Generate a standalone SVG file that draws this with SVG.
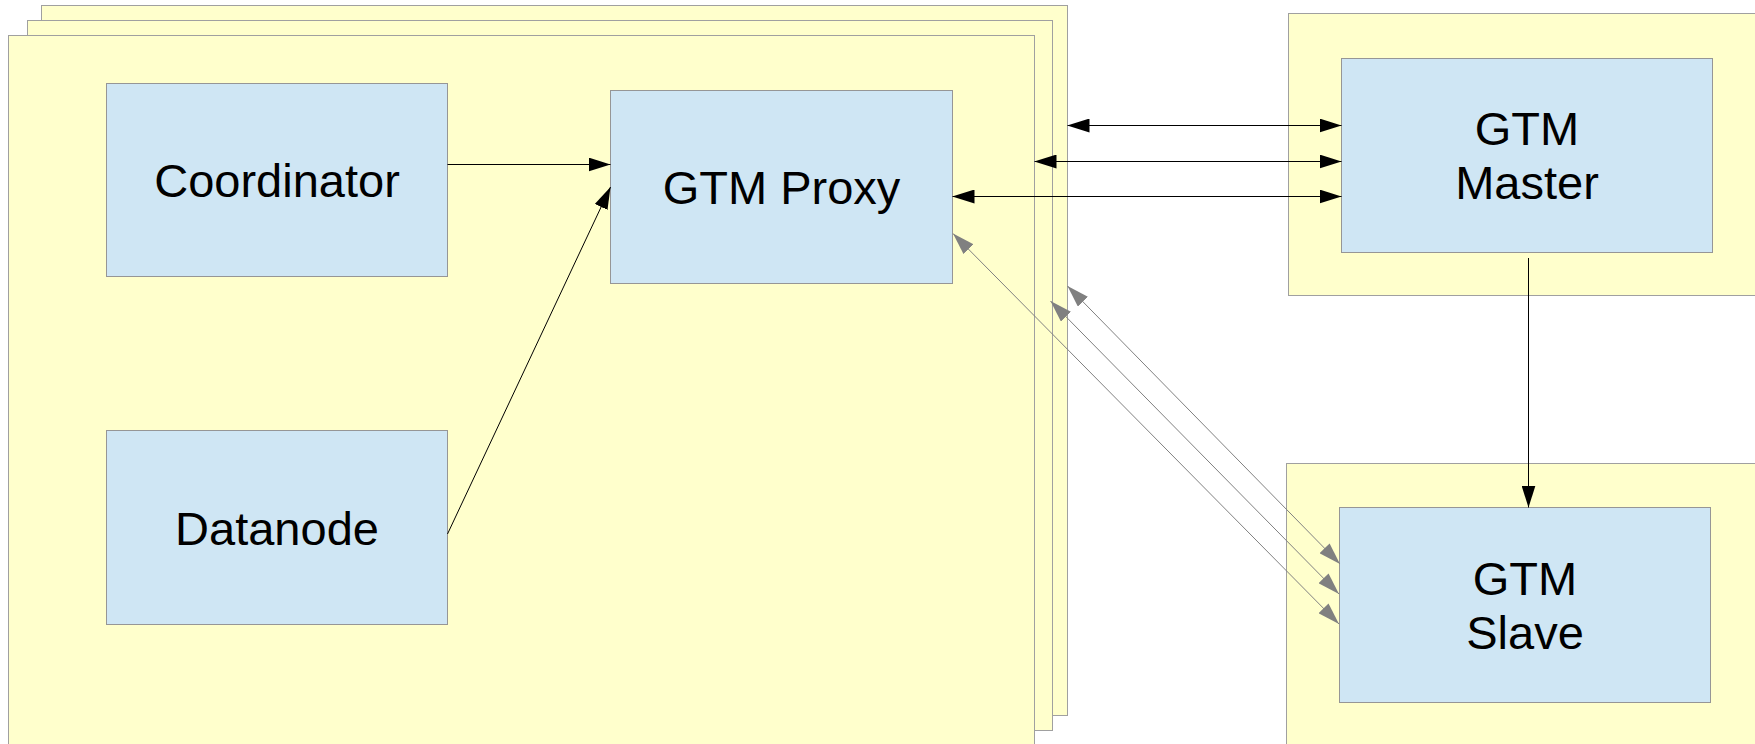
<svg xmlns="http://www.w3.org/2000/svg" width="1755" height="744" viewBox="0 0 1755 744">
  <style>
    .frame { fill: #ffffcc; stroke: #a0a0a0; stroke-width: 1; }
    .box { fill: #cfe6f4; stroke: #969696; stroke-width: 1; }
    .label { font-family: "Liberation Sans", Arial, sans-serif; font-size: 47px; fill: #000; text-anchor: middle; }
    .link { fill: none; stroke: #000; stroke-width: 1; }
    .sync { fill: none; stroke: #808080; stroke-width: 1; }
  </style>
  <defs>
    <marker id="arrow" markerUnits="userSpaceOnUse" markerWidth="22" markerHeight="14" refX="22" refY="7" orient="auto-start-reverse">
      <path d="M0,0 L22,7 L0,14 z" fill="#000"/>
    </marker>
    <marker id="arrowGray" markerUnits="userSpaceOnUse" markerWidth="22" markerHeight="14" refX="22" refY="7" orient="auto-start-reverse">
      <path d="M0,0 L22,7 L0,14 z" fill="#808080"/>
    </marker>
  </defs>

  <!-- stacked server frames (three hosts) -->
  <g id="host-back"><rect class="frame" x="41.5" y="5.5" width="1026" height="710"/></g>
  <g id="host-middle"><rect class="frame" x="27.5" y="20.5" width="1025" height="710"/></g>
  <g id="host-front"><rect class="frame" x="8.5" y="35.5" width="1026" height="710"/></g>

  <!-- GTM hosts -->
  <g id="host-gtm-master"><rect class="frame" x="1288.5" y="13.5" width="500" height="282"/></g>
  <g id="host-gtm-slave"><rect class="frame" x="1286.5" y="463.5" width="500" height="300"/></g>

  <g id="coordinator">
    <rect class="box" x="106.5" y="83.5" width="341" height="193"/>
    <text class="label" x="277" y="197">Coordinator</text>
  </g>
  <g id="datanode">
    <rect class="box" x="106.5" y="430.5" width="341" height="194"/>
    <text class="label" x="277" y="545">Datanode</text>
  </g>
  <g id="gtm-proxy">
    <rect class="box" x="610.5" y="90.5" width="342" height="193"/>
    <text class="label" x="781.5" y="204">GTM Proxy</text>
  </g>
  <g id="gtm-master">
    <rect class="box" x="1341.5" y="58.5" width="371" height="194"/>
    <text class="label" x="1527" y="145">GTM</text>
    <text class="label" x="1527" y="199">Master</text>
  </g>
  <g id="gtm-slave">
    <rect class="box" x="1339.5" y="507.5" width="371" height="195"/>
    <text class="label" x="1525" y="595">GTM</text>
    <text class="label" x="1525" y="649">Slave</text>
  </g>

  <g id="connectors">
    <line class="link" x1="447.5" y1="164.5" x2="610.5" y2="164.5" marker-end="url(#arrow)"/>
    <line class="link" x1="447.5" y1="534" x2="610.5" y2="187" marker-end="url(#arrow)"/>
    <line class="link" x1="1067.5" y1="125.5" x2="1341.5" y2="125.5" marker-start="url(#arrow)" marker-end="url(#arrow)"/>
    <line class="link" x1="1034.5" y1="161.5" x2="1341.5" y2="161.5" marker-start="url(#arrow)" marker-end="url(#arrow)"/>
    <line class="link" x1="952.5" y1="196.5" x2="1341.5" y2="196.5" marker-start="url(#arrow)" marker-end="url(#arrow)"/>
    <line class="link" x1="1528.5" y1="258" x2="1528.5" y2="507.5" marker-end="url(#arrow)"/>
    <line class="sync" x1="1067.5" y1="286" x2="1340" y2="564" marker-start="url(#arrowGray)" marker-end="url(#arrowGray)"/>
    <line class="sync" x1="1050.5" y1="301" x2="1339" y2="594" marker-start="url(#arrowGray)" marker-end="url(#arrowGray)"/>
    <line class="sync" x1="953" y1="233.5" x2="1339" y2="624" marker-start="url(#arrowGray)" marker-end="url(#arrowGray)"/>
  </g>
</svg>
